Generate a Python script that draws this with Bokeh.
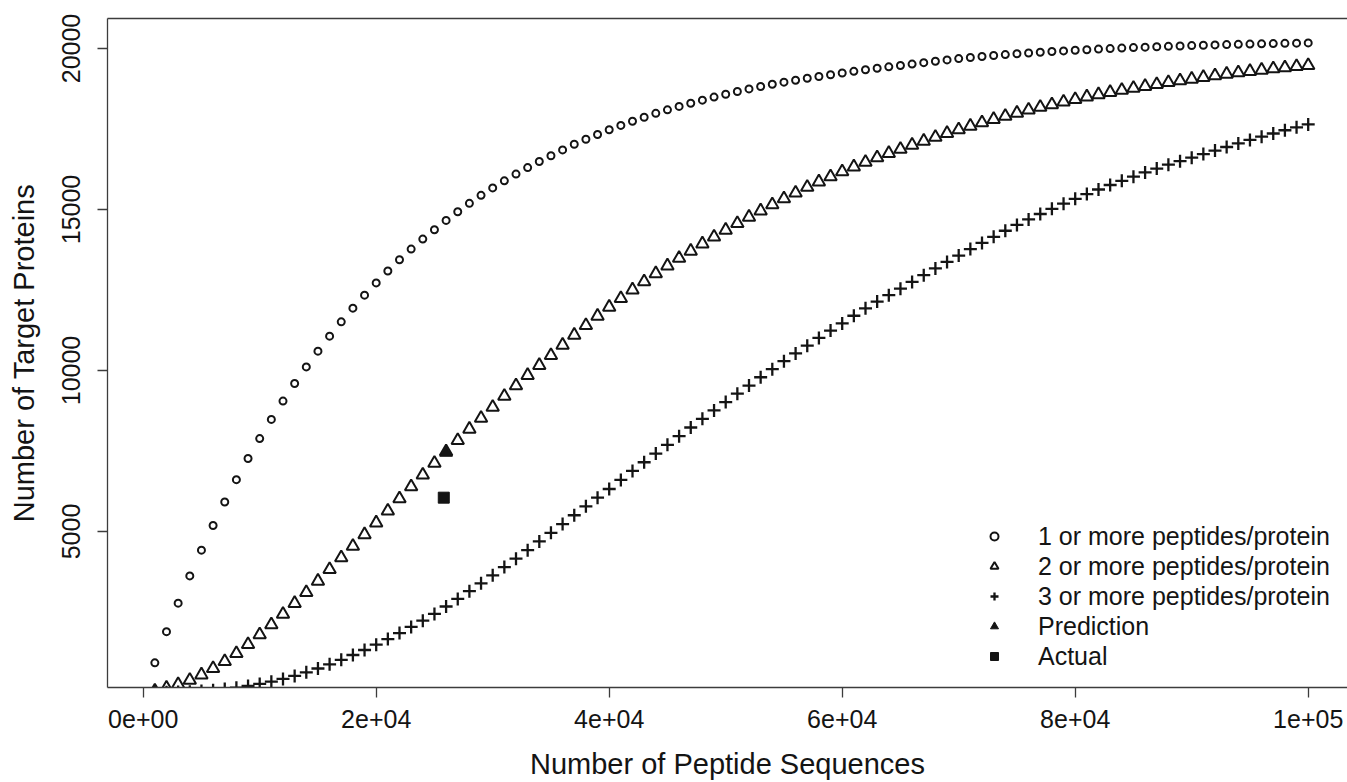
from bokeh.plotting import figure
from bokeh.models import Range1d, FixedTicker, Legend, LegendItem, LinearAxis
from bokeh.embed import file_html
from bokeh.resources import INLINE

# ---- data ----
peptides = list(range(1000, 100001, 1000))

one_or_more = [
    920, 1890, 2775, 3620, 4420, 5185, 5915, 6610, 7265, 7885,
    8480, 9050, 9595, 10110, 10600, 11065, 11510, 11935, 12340, 12720,
    13090, 13440, 13770, 14080, 14370, 14660, 14930, 15190, 15440, 15670,
    15890, 16100, 16300, 16490, 16670, 16850, 17025, 17180, 17330, 17475,
    17610, 17740, 17865, 17985, 18095, 18200, 18300, 18395, 18490, 18580,
    18665, 18745, 18820, 18890, 18955, 19015, 19075, 19130, 19185, 19240,
    19290, 19340, 19385, 19430, 19470, 19515, 19560, 19605, 19645, 19685,
    19720, 19752, 19783, 19810, 19835, 19860, 19882, 19905, 19925, 19945,
    19962, 19980, 19997, 20012, 20027, 20040, 20053, 20066, 20078, 20090,
    20100, 20110, 20120, 20129, 20137, 20145, 20152, 20159, 20166, 20172,
]

two_or_more = [
    50, 140, 250, 385, 550, 745, 965, 1215, 1495, 1795,
    2105, 2430, 2770, 3110, 3460, 3820, 4185, 4545, 4905, 5270,
    5640, 6020, 6390, 6755, 7120, 7480, 7830, 8180, 8520, 8860,
    9200, 9530, 9850, 10160, 10470, 10790, 11100, 11400, 11690, 11970,
    12240, 12505, 12760, 13010, 13250, 13485, 13710, 13935, 14150, 14360,
    14565, 14765, 14960, 15150, 15335, 15515, 15690, 15860, 16020, 16175,
    16325, 16470, 16610, 16745, 16875, 17000, 17125, 17245, 17365, 17480,
    17590, 17695, 17800, 17900, 17995, 18090, 18175, 18255, 18340, 18420,
    18500, 18570, 18640, 18705, 18765, 18825, 18885, 18945, 19000, 19050,
    19105, 19155, 19205, 19250, 19290, 19330, 19370, 19405, 19440, 19475,
]

three_or_more = [
    1, 5, 12, 25, 45, 70, 105, 150, 205, 265,
    335, 420, 515, 625, 745, 875, 1015, 1165, 1320, 1485,
    1660, 1845, 2035, 2230, 2440, 2670, 2905, 3145, 3390, 3640,
    3895, 4155, 4420, 4690, 4960, 5230, 5505, 5780, 6050, 6320,
    6600, 6880, 7150, 7420, 7690, 7960, 8230, 8500, 8760, 9020,
    9280, 9530, 9790, 10040, 10290, 10530, 10770, 11010, 11240, 11460,
    11700, 11930, 12140, 12340, 12540, 12750, 12960, 13170, 13370, 13570,
    13770, 13960, 14150, 14340, 14520, 14690, 14860, 15020, 15180, 15330,
    15480, 15620, 15760, 15890, 16020, 16150, 16270, 16390, 16500, 16610,
    16720, 16830, 16940, 17050, 17160, 17260, 17360, 17460, 17550, 17640,
]

prediction_x = [26000]
prediction_y = [7450]
actual_x = [25800]
actual_y = [6050]

x_ticks = [0, 20000, 40000, 60000, 80000, 100000]
x_tick_labels = ["0e+00", "2e+04", "4e+04", "6e+04", "8e+04", "1e+05"]
y_ticks = [5000, 10000, 15000, 20000]
y_tick_labels = ["5000", "10000", "15000", "20000"]

legend_labels = ["1 or more peptides/protein", "2 or more peptides/protein",
                 "3 or more peptides/protein", "Prediction", "Actual"]

# ---- figure ----
FONT = "Liberation Sans"
INK = "#141414"
AX = "#3c3c3c"

p = figure(width=1347, height=782, output_backend="svg", toolbar_location=None,
           x_range=Range1d(-3064, 103373), y_range=Range1d(155, 20931),
           min_border_left=107, min_border_right=0, min_border_top=18,
           min_border_bottom=95)
p.grid.visible = False
p.outline_line_color = None
p.background_fill_color = "white"
p.border_fill_color = "white"

r1 = p.scatter(peptides, one_or_more, marker="circle", size=7, fill_color=None,
               line_color=INK, line_width=2)
r2 = p.scatter(peptides, two_or_more, marker="triangle", size=12.5, fill_color=None,
               line_color=INK, line_width=2)
r3 = p.scatter(peptides, three_or_more, marker="cross", size=13, line_color=INK,
               line_width=2.3)
r4 = p.scatter(prediction_x, prediction_y, marker="triangle", size=12.5,
               fill_color=INK, line_color=INK, line_width=1)
r5 = p.scatter(actual_x, actual_y, marker="square", size=11, fill_color=INK,
               line_color=INK, line_width=1)

for ax in (p.xaxis[0], p.yaxis[0]):
    ax.axis_line_color = AX
    ax.axis_line_width = 1.3
    ax.major_tick_line_color = AX
    ax.major_tick_line_width = 1.3
    ax.major_tick_in = 0
    ax.major_tick_out = 10
    ax.minor_tick_line_color = None
    ax.major_label_text_font = FONT
    ax.major_label_text_font_size = "25px"
    ax.major_label_text_color = INK
    ax.axis_label_text_font = FONT
    ax.axis_label_text_font_size = "29px"
    ax.axis_label_text_font_style = "normal"
    ax.axis_label_text_color = INK

xa = p.xaxis[0]
xa.ticker = FixedTicker(ticks=x_ticks)
xa.major_label_overrides = dict(zip(x_ticks, x_tick_labels))
xa.axis_label = "Number of Peptide Sequences"
xa.major_label_standoff = 12
xa.axis_label_standoff = 17

ya = p.yaxis[0]
ya.ticker = FixedTicker(ticks=y_ticks)
ya.major_label_overrides = dict(zip(y_ticks, y_tick_labels))
ya.major_label_orientation = "vertical"
ya.axis_label = "Number of Target Proteins"
ya.major_label_standoff = 17
ya.axis_label_standoff = 20

top = LinearAxis(ticker=FixedTicker(ticks=[]), axis_line_color=AX, axis_line_width=1.3,
                 major_tick_out=0, major_tick_in=0, minor_tick_out=0, minor_tick_in=0,
                 major_label_text_font_size="0px")
p.add_layout(top, "above")

legend = Legend(
    items=[LegendItem(label=lab, renderers=[r]) for lab, r in
           zip(legend_labels, [r1, r2, r3, r4, r5])],
    location=(877, 16), orientation="vertical",
    border_line_color=None, background_fill_alpha=0,
    padding=0, margin=0, spacing=0,
    glyph_width=20, glyph_height=30, label_height=30, label_standoff=34,
    label_text_font=FONT, label_text_font_size="25px", label_text_color=INK,
)
p.add_layout(legend)

open("out.html", "w").write(file_html(p, INLINE))
